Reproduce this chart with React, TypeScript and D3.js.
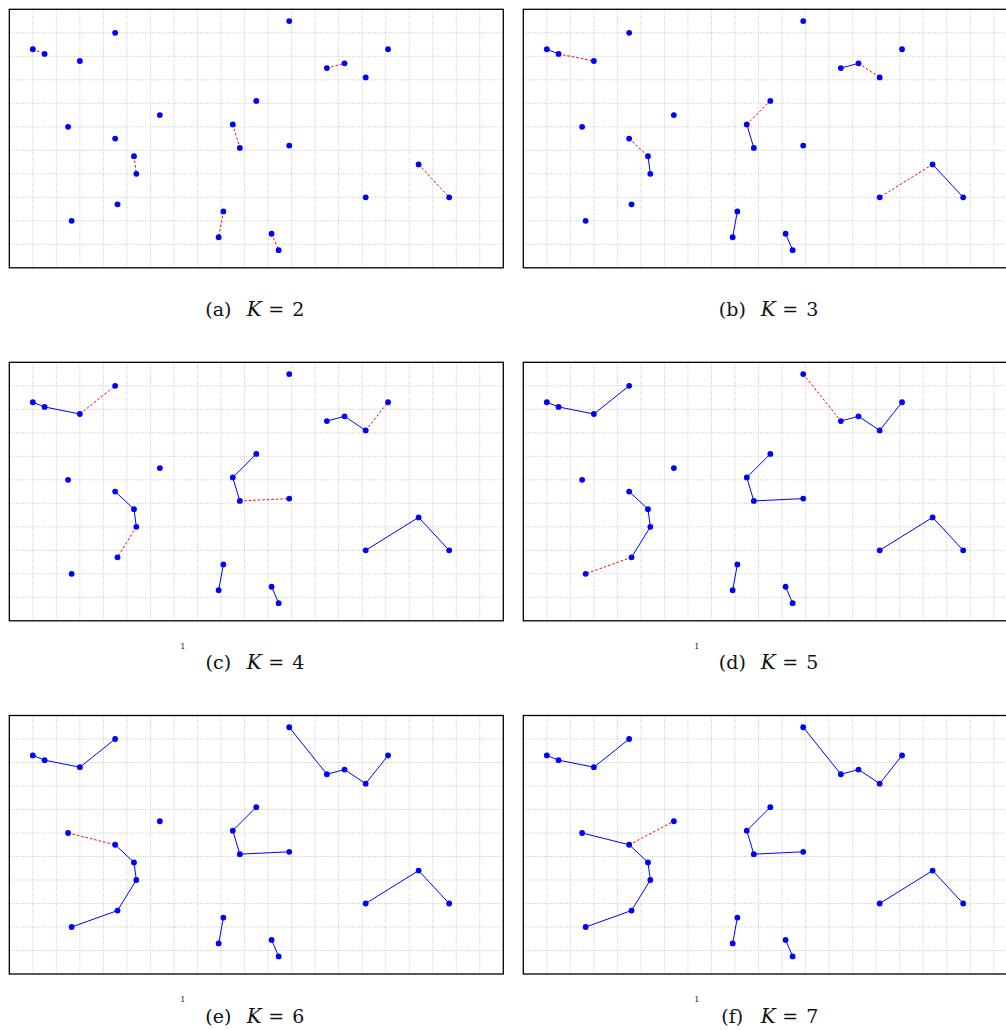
import React from "react";
import * as d3 from "d3";

// Point coordinates (grid units, y measured upward)
const pointX = [1.0, 1.5, 3.0, 4.5, 10.5, 6.4, 2.5, 4.5, 9.5, 9.8, 5.3, 5.4, 4.6, 2.65, 9.1, 8.9, 11.9, 16.1, 13.5, 14.25, 15.15, 11.9, 17.4, 18.7, 15.15, 11.15, 11.45];
const pointY = [9.3, 9.1, 8.8, 10.0, 7.1, 6.5, 6.0, 5.5, 6.1, 5.1, 4.75, 4.0, 2.7, 2.0, 2.4, 1.3, 10.5, 9.3, 8.5, 8.7, 8.1, 5.2, 4.4, 3.0, 3.0, 1.45, 0.75];

// Edges (1-based point indices) and the K at which each edge is added
const edgeFrom = [1, 19, 9, 11, 15, 26, 23, 2, 20, 8, 9, 23, 3, 21, 10, 12, 17, 13, 7, 8];
const edgeTo = [2, 20, 10, 12, 16, 27, 24, 3, 21, 11, 5, 25, 4, 18, 22, 13, 19, 14, 8, 6];
const edgeK = [2, 2, 2, 2, 2, 2, 2, 3, 3, 3, 3, 3, 4, 4, 4, 4, 5, 5, 6, 7];

const panelLetters = ["a", "b", "c", "d", "e", "f"];
const panelK = [2, 3, 4, 5, 6, 7];

const xDomain = [0, 21];
const yDomain = [0, 11];

const W = 494;
const H = 258.5;
const colX = [9.3, 523.3];
const rowY = [9.3, 362.3, 715.5];

const serif = "'DejaVu Serif', 'Liberation Serif', serif";

function Panel({ idx }: { idx: number }) {
  const K = panelK[idx];
  const ox = colX[idx % 2];
  const oy = rowY[Math.floor(idx / 2)];
  const x = d3.scaleLinear().domain(xDomain).range([0, W]);
  const y = d3.scaleLinear().domain(yDomain).range([H, 0]);
  const gx = d3.range(xDomain[0] + 1, xDomain[1]);
  const gy = d3.range(yDomain[0] + 1, yDomain[1]);
  const cx = W / 2;
  const row = Math.floor(idx / 2);
  const edges = edgeFrom
    .map((f, i) => ({ f: f - 1, t: edgeTo[i] - 1, k: edgeK[i] }))
    .filter((e) => e.k <= K);
  return (
    <g transform={`translate(${ox},${oy})`}>
      <rect x={0} y={0} width={W} height={H} fill="white" />
      {gx.map((v) => (
        <line key={"gx" + v} x1={x(v)} x2={x(v)} y1={0} y2={H} stroke="#bdbdbd" strokeWidth={0.8} strokeDasharray="1 1.3" />
      ))}
      {gy.map((v) => (
        <line key={"gy" + v} x1={0} x2={W} y1={y(v)} y2={y(v)} stroke="#bdbdbd" strokeWidth={0.8} strokeDasharray="1 1.3" />
      ))}
      {edges.map((e, i) => (
        <line
          key={"e" + i}
          x1={x(pointX[e.f])}
          y1={y(pointY[e.f])}
          x2={x(pointX[e.t])}
          y2={y(pointY[e.t])}
          stroke={e.k === K ? "#ff0000" : "#0000ff"}
          strokeWidth={1}
          strokeDasharray={e.k === K ? "2.5 2" : undefined}
        />
      ))}
      {pointX.map((px, i) => (
        <circle key={"p" + i} cx={x(px)} cy={y(pointY[i])} r={2.9} fill="#0000ff" />
      ))}
      <rect x={0} y={0} width={W} height={H} fill="none" stroke="#000" strokeWidth={1.3} />
      <g fontFamily={serif} fontSize={19} fill="#111">
        <text x={cx - 38} y={307} textAnchor="middle">({panelLetters[idx]})</text>
        <text x={cx - 2} y={307} textAnchor="middle" fontStyle="italic" fontSize={20}>K</text>
        <text x={cx + 20} y={307} textAnchor="middle">=</text>
        <text x={cx + 42} y={307} textAnchor="middle">{K}</text>
      </g>
      {row > 0 && (
        <text x={173.4} y={286.5} fontFamily={serif} fontSize={8} textAnchor="middle" fill="#222">1</text>
      )}
    </g>
  );
}

export default function App() {
  return (
    <svg width={1006} height={1030} style={{ position: "absolute", left: 0, top: 0, background: "white" }}>
      {panelK.map((_, i) => (
        <Panel key={i} idx={i} />
      ))}
    </svg>
  );
}
